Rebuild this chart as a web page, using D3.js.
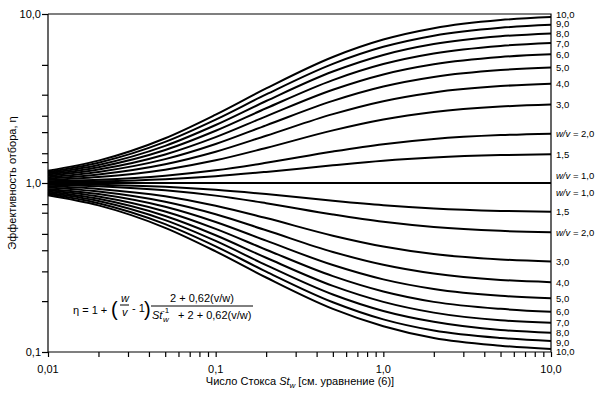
<!DOCTYPE html>
<html>
<head>
<meta charset="utf-8">
<style>
  body { margin: 0; background: #fff; }
  svg { font-family: "Liberation Sans", Arial, sans-serif; font-size: 11px; }
  .curve { fill: none; stroke: #000; stroke-width: 2; }
  .frame { stroke: #000; stroke-width: 1.2; fill: none; }
  .axis path, .axis line { stroke: #000; stroke-width: 1.2; }
</style>
</head>
<body>
<script src="https://d3js.org/d3.v7.min.js"></script>
<script>
// Stokes numbers where the curves were read
var stokes = [0.01, 0.02, 0.05, 0.1, 0.2, 0.5, 1, 2, 5, 10];

// upper family, w/v = 10 ... 1.5
var upperLabels = ["10,0", "9,0", "8,0", "7,0", "6,0", "5,0", "4,0", "3,0", "= 2,0", "1,5"];
var upperEta = [
  [1.182, 1.357, 1.841, 2.539, 3.628, 5.569, 7.061, 8.244, 9.204, 9.584],
  [1.162, 1.318, 1.750, 2.371, 3.341, 5.068, 6.393, 7.443, 8.295, 8.631],
  [1.143, 1.279, 1.659, 2.204, 3.055, 4.567, 5.725, 6.642, 7.385, 7.679],
  [1.123, 1.241, 1.567, 2.037, 2.768, 4.065, 5.057, 5.841, 6.476, 6.726],
  [1.103, 1.202, 1.476, 1.869, 2.481, 3.563, 4.389, 5.040, 5.566, 5.773],
  [1.083, 1.163, 1.384, 1.701, 2.193, 3.060, 3.720, 4.238, 4.656, 4.820],
  [1.063, 1.124, 1.292, 1.532, 1.904, 2.556, 3.049, 3.435, 3.745, 3.867],
  [1.043, 1.085, 1.199, 1.362, 1.612, 2.049, 2.376, 2.631, 2.834, 2.913],
  [1.023, 1.044, 1.104, 1.188, 1.316, 1.536, 1.698, 1.822, 1.920, 1.959],
  [1.012, 1.023, 1.054, 1.097, 1.163, 1.273, 1.354, 1.414, 1.462, 1.480]
];

// lower family
var lowerLabels = ["10,0", "9,0", "8,0", "7,0", "6,0", "5,0", "4,0", "3,0", "= 2,0", "1,5"];
var lowerEta = [
  [0.846, 0.737, 0.543, 0.394, 0.276, 0.180, 0.142, 0.121, 0.109, 0.104],
  [0.860, 0.759, 0.571, 0.422, 0.299, 0.197, 0.156, 0.134, 0.121, 0.116],
  [0.875, 0.782, 0.603, 0.454, 0.327, 0.219, 0.175, 0.151, 0.135, 0.130],
  [0.891, 0.806, 0.638, 0.491, 0.361, 0.246, 0.198, 0.171, 0.154, 0.149],
  [0.907, 0.832, 0.678, 0.535, 0.403, 0.281, 0.228, 0.198, 0.180, 0.173],
  [0.923, 0.860, 0.723, 0.588, 0.456, 0.327, 0.269, 0.236, 0.215, 0.208],
  [0.941, 0.890, 0.774, 0.653, 0.525, 0.391, 0.328, 0.291, 0.267, 0.259],
  [0.959, 0.922, 0.834, 0.734, 0.620, 0.488, 0.421, 0.380, 0.353, 0.343],
  [0.978, 0.958, 0.906, 0.842, 0.760, 0.651, 0.589, 0.549, 0.521, 0.511],
  [0.988, 0.978, 0.949, 0.911, 0.860, 0.785, 0.739, 0.707, 0.684, 0.676]
];

var unityEta = [1, 1, 1, 1, 1, 1, 1, 1, 1, 1];

var xMajor = [0.01, 0.1, 1, 10];
var xMajorLabels = ["0,01", "0,1", "1,0", "10,0"];
var yMajor = [0.1, 1, 10];
var yMajorLabels = ["0,1", "1,0", "10,0"];
var yMinor = [0.2, 0.3, 0.4, 0.5, 0.667, 0.75, 1.33, 1.5, 2, 2.5, 3.33, 5];

var W = 605, H = 396;
var plotLeft = 48, plotRight = 551, plotTop = 14, plotBottom = 352;

var svg = d3.select("body").append("svg")
  .attr("width", W).attr("height", H);

var x = d3.scaleLog().domain([0.01, 10]).range([plotLeft, plotRight]);
var y = d3.scaleLog().domain([0.1, 10]).range([plotBottom, plotTop]);

// x minor ticks 2..9 per decade
var xMinor = [];
[0.01, 0.1, 1].forEach(function(d) {
  for (var k = 2; k <= 9; k++) xMinor.push(d * k);
});

// x axis
svg.append("g").attr("class", "axis")
  .attr("transform", "translate(0," + plotBottom + ")")
  .call(d3.axisBottom(x).tickValues(xMinor.concat(xMajor)).tickSize(5).tickFormat(""))
  .call(function(g) { g.select(".domain").attr("d", "M" + plotLeft + ",0H" + plotRight); });

svg.append("g").selectAll("text").data(xMajor).enter().append("text")
  .attr("x", function(d) { return x(d); })
  .attr("y", plotBottom + 21)
  .attr("text-anchor", "middle")
  .text(function(d, i) { return xMajorLabels[i]; });

// y axis
svg.append("g").attr("class", "axis")
  .attr("transform", "translate(" + plotLeft + ",0)")
  .call(d3.axisLeft(y).tickValues(yMinor.concat(yMajor)).tickSize(6).tickFormat(""))
  .call(function(g) { g.select(".domain").attr("d", "M0," + plotTop + "V" + plotBottom); });

svg.append("g").selectAll("text").data(yMajor).enter().append("text")
  .attr("x", plotLeft - 7)
  .attr("y", function(d) { return y(d) + 4; })
  .attr("text-anchor", "end")
  .text(function(d, i) { return yMajorLabels[i]; });

// top + right frame
svg.append("path").attr("class", "frame")
  .attr("d", "M" + plotLeft + "," + plotTop + "H" + plotRight + "V" + plotBottom);

// curves
var line = d3.line()
  .x(function(d, i) { return x(stokes[i]); })
  .y(function(d) { return y(d); })
  .curve(d3.curveMonotoneX);

var all = upperEta.concat(lowerEta).concat([unityEta]);
svg.append("g").selectAll("path").data(all).enter().append("path")
  .attr("class", "curve")
  .attr("d", line);

// right labels, pushed apart where the curve ends crowd together
function addLabels(series, labels, dir) {
  var g = svg.append("g").attr("font-size", 9.5);
  var pos = series.map(function(s) { return y(s[s.length - 1]); });
  for (var i = pos.length - 2; i >= 0; i--) {
    if (dir < 0) pos[i] = Math.min(pos[i], pos[i + 1] - 9.5);
    else pos[i] = Math.max(pos[i], pos[i + 1] + 9.5);
  }
  series.forEach(function(s, i) {
    var t = g.append("text")
      .attr("x", plotRight + 5)
      .attr("y", pos[i] + 3.5);
    if (labels[i].charAt(0) == "=") {
      t.append("tspan").attr("font-style", "italic").text("w/v");
      t.append("tspan").text(" " + labels[i]);
    } else {
      t.text(labels[i]);
    }
  });
}
addLabels(upperEta, upperLabels, -1);
addLabels(lowerEta, lowerLabels, 1);

var unity = svg.append("g").attr("font-size", 9.5);
[-8, 9].forEach(function(off) {
  var t = unity.append("text").attr("x", plotRight + 5).attr("y", y(1) + off + 3.5);
  t.append("tspan").attr("font-style", "italic").text("w/v");
  t.append("tspan").text(" = 1,0");
});

// axis titles
svg.append("text")
  .attr("transform", "translate(16," + 183 + ") rotate(-90)")
  .attr("text-anchor", "middle")
  .text("Эффективность отбора, η");

var xt = svg.append("text")
  .attr("x", 300).attr("y", 385)
  .attr("text-anchor", "middle");
xt.append("tspan").text("Число Стокса ");
xt.append("tspan").attr("font-style", "italic").text("St");
xt.append("tspan").attr("font-style", "italic").attr("font-size", 8).attr("dy", 3).text("w");
xt.append("tspan").attr("dy", -3).text(" [см. уравнение (6)]");

// formula
var f = svg.append("g");
f.append("text").attr("x", 73).attr("y", 314).text("η = 1 +");
f.append("text").attr("x", 111).attr("y", 316).attr("font-size", 20).attr("font-weight", 300).text("(");
f.append("text").attr("x", 121).attr("y", 302).attr("font-style", "italic").text("w");
f.append("line").attr("x1", 120).attr("x2", 129).attr("y1", 305).attr("y2", 305).attr("stroke", "#000");
f.append("text").attr("x", 122).attr("y", 316).attr("font-style", "italic").text("v");
f.append("text").attr("x", 132).attr("y", 312).text("- 1");
f.append("text").attr("x", 144).attr("y", 316).attr("font-size", 20).attr("font-weight", 300).text(")");
f.append("text").attr("x", 202).attr("y", 302).attr("text-anchor", "middle").text("2 + 0,62(v/w)");
f.append("line").attr("x1", 151).attr("x2", 253).attr("y1", 306).attr("y2", 306).attr("stroke", "#000");
f.append("text").attr("x", 152).attr("y", 319).attr("font-style", "italic").text("St");
f.append("text").attr("x", 163).attr("y", 322).attr("font-style", "italic").attr("font-size", 8).text("w");
f.append("text").attr("x", 162).attr("y", 313).attr("font-size", 8).text("-1");
f.append("text").attr("x", 178).attr("y", 319).text("+ 2 + 0,62(v/w)");
</script>
</body>
</html>
